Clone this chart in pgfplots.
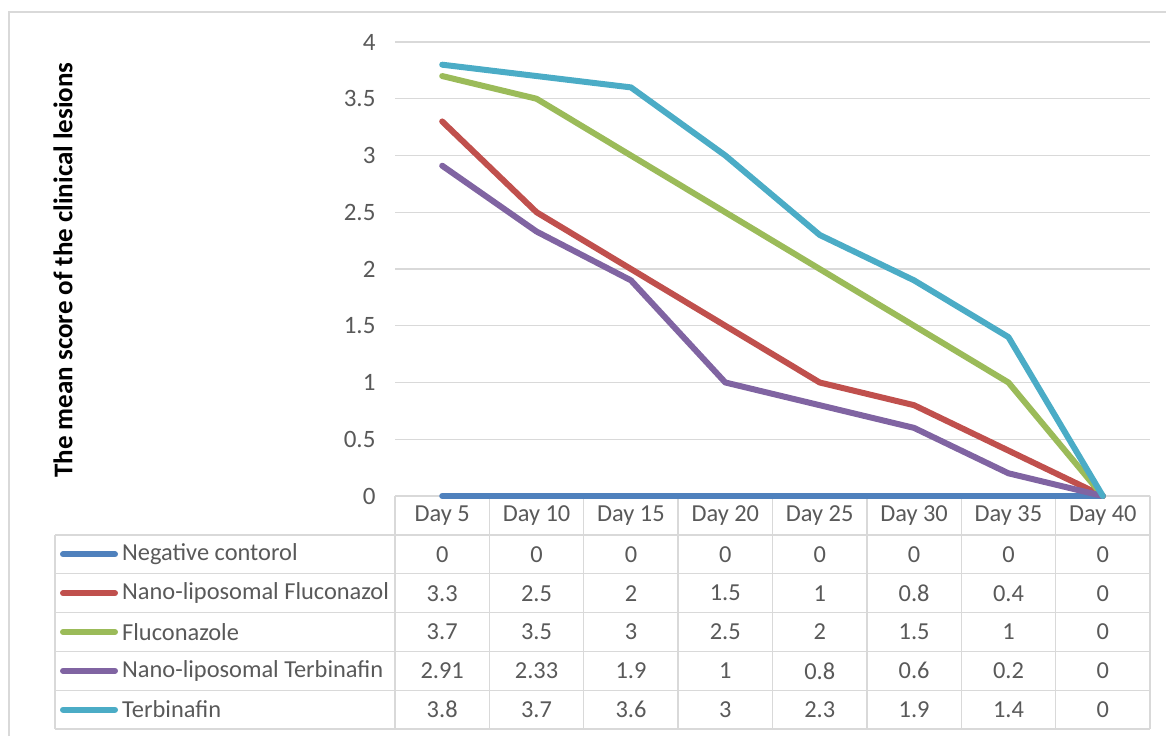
\documentclass[border=0pt]{standalone}
\usepackage{pgfplots}
\pgfplotsset{compat=1.18}
\usepackage{fontspec}
\setmainfont{Carlito}
\definecolor{cblue}{HTML}{4F81BD}
\definecolor{cred}{HTML}{C0504D}
\definecolor{cgreen}{HTML}{9BBB59}
\definecolor{cpurple}{HTML}{8064A2}
\definecolor{caqua}{HTML}{4BACC6}
\definecolor{gridgray}{HTML}{D9D9D9}
\definecolor{textgray}{HTML}{595959}
\begin{document}
\begin{tikzpicture}[x=1pt,y=1pt]
\path[use as bounding box] (0,0) rectangle (1166,736);
\draw[gridgray, line width=1.3pt] (9,0) -- (9,724) -- (1166,724);
% table grid
\begin{scope}[gridgray, line width=1.3pt]
\draw (395,240) -- (1150,240);
\foreach \py in {535,573.8,612.6,651.4,690.2,729} {\draw (55,736-\py) -- (1150,736-\py);}
\draw (55,201) -- (55,7);
\foreach \k in {0,...,8} {\draw ({395+\k*94.375},240) -- ({395+\k*94.375},7);}
\end{scope}
% table text
\begin{scope}[text=textgray, font=\fontsize{24.4}{28}\selectfont]
\foreach \lab [count=\k from 0] in {Day 5,Day 10,Day 15,Day 20,Day 25,Day 30,Day 35,Day 40}
  {\node at ({395+(\k+0.5)*94.375},{736-515.5}) {\lab};}
\foreach \col/\name [count=\r from 0] in {cblue/Negative contorol,cred/Nano-liposomal Fluconazol,cgreen/Fluconazole,cpurple/Nano-liposomal Terbinafin,caqua/Terbinafin} {
  \draw[\col, line width=6pt, line cap=round] (63,{736-(554.4+\r*38.8)}) -- (115,{736-(554.4+\r*38.8)});
  \node[anchor=west, inner sep=0pt] at (122,{736-(554.4+\r*38.8)}) {\name};
}
\foreach \v [count=\k from 0] in {0,0,0,0,0,0,0,0} {\node at ({395+(\k+0.5)*94.375},{736-554.4}) {\v};}
\foreach \v [count=\k from 0] in {3.3,2.5,2,1.5,1,0.8,0.4,0} {\node at ({395+(\k+0.5)*94.375},{736-593.2}) {\v};}
\foreach \v [count=\k from 0] in {3.7,3.5,3,2.5,2,1.5,1,0} {\node at ({395+(\k+0.5)*94.375},{736-632}) {\v};}
\foreach \v [count=\k from 0] in {2.91,2.33,1.9,1,0.8,0.6,0.2,0} {\node at ({395+(\k+0.5)*94.375},{736-670.8}) {\v};}
\foreach \v [count=\k from 0] in {3.8,3.7,3.6,3,2.3,1.9,1.4,0} {\node at ({395+(\k+0.5)*94.375},{736-709.6}) {\v};}
\end{scope}
\node[rotate=90, font=\bfseries\fontsize{27}{30}\selectfont] at (63,466) {The mean score of the clinical lesions};
\begin{axis}[at={(395pt,240pt)}, anchor=south west, scale only axis,
  width=755pt, height=454pt, xmin=-0.5, xmax=7.5, ymin=0, ymax=4,
  axis line style={draw=none}, major tick length=0pt,
  xtick=\empty, ytick={0,0.5,1,1.5,2,2.5,3,3.5,4},
  yticklabels={0,0.5,1,1.5,2,2.5,3,3.5,4},
  yticklabel style={font=\fontsize{25}{28}\selectfont, text=textgray, xshift=-16pt},
  ymajorgrids, grid style={gridgray, line width=1.3pt},
  clip=false,
  every axis plot/.append style={line width=6pt, line cap=round, line join=round, mark=none}]
\addplot[cblue] coordinates {(0,0)(1,0)(2,0)(3,0)(4,0)(5,0)(6,0)(7,0)};
\addplot[cred] coordinates {(0,3.3)(1,2.5)(2,2)(3,1.5)(4,1)(5,0.8)(6,0.4)(7,0)};
\addplot[cgreen] coordinates {(0,3.7)(1,3.5)(2,3)(3,2.5)(4,2)(5,1.5)(6,1)(7,0)};
\addplot[cpurple] coordinates {(0,2.91)(1,2.33)(2,1.9)(3,1)(4,0.8)(5,0.6)(6,0.2)(7,0)};
\addplot[caqua] coordinates {(0,3.8)(1,3.7)(2,3.6)(3,3)(4,2.3)(5,1.9)(6,1.4)(7,0)};
\end{axis}
\end{tikzpicture}
\end{document}
